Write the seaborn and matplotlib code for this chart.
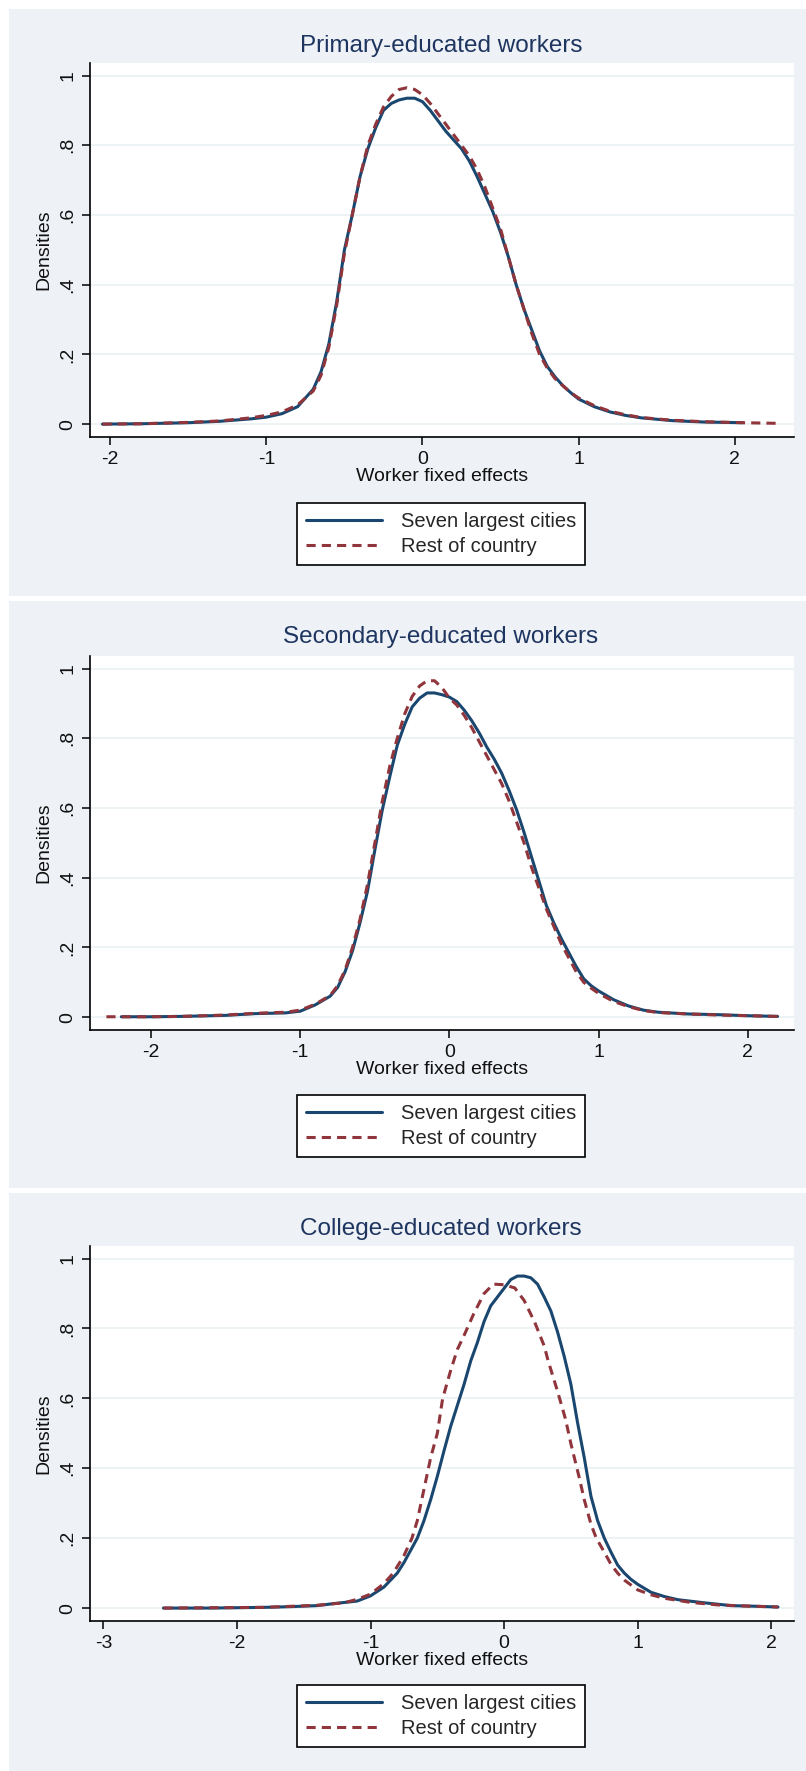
import matplotlib
matplotlib.use('Agg')
import matplotlib.pyplot as plt
from matplotlib.patches import Rectangle
import seaborn as sns

# Colours (Stata s2color look)
PANEL_BG = '#EEF1F6'
CITY_COLOR = '#1A476F'
REST_COLOR = '#90353B'
TITLE_COLOR = '#1E3560'
GRID_COLOR = '#EAF0F4'

titles = ['Primary-educated workers', 'Secondary-educated workers', 'College-educated workers']
series_names = ['Seven largest cities', 'Rest of country']
y_ticks = [0, 0.2, 0.4, 0.6, 0.8, 1.0]
y_tick_labels = ['0', '.2', '.4', '.6', '.8', '1']

# Primary-educated
primary_city_x = [-2.05, -1.8, -1.5, -1.3, -1.1, -1.0, -0.9, -0.8, -0.75, -0.7, -0.65, -0.6, -0.55,
                  -0.5, -0.45, -0.4, -0.35, -0.3, -0.25, -0.2, -0.15, -0.1, -0.05, 0.0, 0.05, 0.1,
                  0.15, 0.2, 0.25, 0.3, 0.35, 0.4, 0.45, 0.5, 0.55, 0.6, 0.65, 0.7, 0.75, 0.8,
                  0.85, 0.9, 0.95, 1.0, 1.1, 1.2, 1.3, 1.4, 1.6, 1.8, 2.05]
primary_city_y = [0.0, 0.001, 0.004, 0.008, 0.015, 0.02, 0.03, 0.05, 0.075, 0.1, 0.15, 0.23, 0.35,
                  0.5, 0.6, 0.71, 0.79, 0.85, 0.9, 0.92, 0.93, 0.935, 0.935, 0.925, 0.9, 0.87,
                  0.84, 0.815, 0.79, 0.755, 0.71, 0.66, 0.61, 0.55, 0.48, 0.4, 0.33, 0.27, 0.21, 0.165,
                  0.135, 0.11, 0.09, 0.072, 0.05, 0.035, 0.025, 0.018, 0.01, 0.006, 0.004]
primary_rest_x = [-2.05, -1.8, -1.5, -1.3, -1.1, -1.0, -0.9, -0.8, -0.75, -0.7, -0.65, -0.6, -0.55,
                  -0.5, -0.45, -0.4, -0.35, -0.3, -0.25, -0.2, -0.15, -0.1, -0.05, 0.0, 0.05, 0.1,
                  0.15, 0.2, 0.25, 0.3, 0.35, 0.4, 0.45, 0.5, 0.55, 0.6, 0.65, 0.7, 0.75, 0.8,
                  0.85, 0.9, 0.95, 1.0, 1.1, 1.2, 1.3, 1.4, 1.6, 1.8, 2.05, 2.3]
primary_rest_y = [0.0, 0.001, 0.005, 0.009, 0.018, 0.025, 0.035, 0.055, 0.075, 0.095, 0.14, 0.22, 0.34,
                  0.49, 0.6, 0.71, 0.8, 0.86, 0.91, 0.94, 0.96, 0.965, 0.96, 0.945, 0.92, 0.89,
                  0.86, 0.83, 0.8, 0.77, 0.73, 0.68, 0.62, 0.56, 0.48, 0.4, 0.33, 0.26, 0.2, 0.16,
                  0.13, 0.11, 0.09, 0.075, 0.053, 0.037, 0.027, 0.019, 0.011, 0.007, 0.004, 0.002]

# Secondary-educated
secondary_city_x = [-2.2, -2.0, -1.8, -1.5, -1.3, -1.1, -1.0, -0.9, -0.8, -0.75, -0.7, -0.65, -0.6,
                    -0.55, -0.5, -0.45, -0.4, -0.35, -0.3, -0.25, -0.2, -0.15, -0.1, -0.05, 0.0,
                    0.05, 0.1, 0.15, 0.2, 0.25, 0.3, 0.35, 0.4, 0.45, 0.5, 0.55, 0.6, 0.65, 0.7,
                    0.75, 0.8, 0.85, 0.9, 0.95, 1.0, 1.1, 1.2, 1.3, 1.4, 1.6, 1.8, 2.0, 2.2]
secondary_city_y = [0.001, 0.001, 0.002, 0.005, 0.01, 0.012, 0.017, 0.035, 0.06, 0.085, 0.13, 0.19, 0.27,
                    0.36, 0.48, 0.595, 0.69, 0.78, 0.84, 0.89, 0.915, 0.93, 0.93, 0.925, 0.918,
                    0.905, 0.88, 0.85, 0.815, 0.775, 0.74, 0.7, 0.65, 0.595, 0.53, 0.46, 0.39, 0.32, 0.27,
                    0.225, 0.185, 0.145, 0.11, 0.09, 0.075, 0.05, 0.032, 0.02, 0.014, 0.009, 0.007, 0.004, 0.002]
secondary_rest_x = [-2.3, -2.0, -1.8, -1.5, -1.3, -1.1, -1.0, -0.9, -0.8, -0.75, -0.7, -0.65, -0.6,
                    -0.55, -0.5, -0.45, -0.4, -0.35, -0.3, -0.25, -0.2, -0.15, -0.1, -0.05, 0.0,
                    0.05, 0.1, 0.15, 0.2, 0.25, 0.3, 0.35, 0.4, 0.45, 0.5, 0.55, 0.6, 0.65, 0.7,
                    0.75, 0.8, 0.85, 0.9, 0.95, 1.0, 1.1, 1.2, 1.3, 1.4, 1.6, 1.8, 2.0, 2.2]
secondary_rest_y = [0.001, 0.001, 0.002, 0.006, 0.011, 0.014, 0.02, 0.037, 0.062, 0.09, 0.135, 0.2, 0.28,
                    0.38, 0.5, 0.62, 0.72, 0.8, 0.87, 0.92, 0.95, 0.965, 0.965, 0.945, 0.915,
                    0.895, 0.865, 0.83, 0.79, 0.75, 0.71, 0.67, 0.62, 0.56, 0.5, 0.43, 0.37, 0.31, 0.26,
                    0.21, 0.17, 0.13, 0.1, 0.083, 0.068, 0.045, 0.03, 0.019, 0.013, 0.009, 0.006, 0.004, 0.002]

# College-educated
college_city_x = [-2.55, -2.2, -1.8, -1.6, -1.4, -1.27, -1.1, -1.0, -0.9, -0.8, -0.75, -0.7, -0.65,
                  -0.6, -0.55, -0.5, -0.45, -0.4, -0.35, -0.3, -0.25, -0.2, -0.15, -0.1, -0.05, 0.0,
                  0.05, 0.1, 0.15, 0.2, 0.25, 0.3, 0.35, 0.4, 0.45, 0.5, 0.55, 0.6, 0.65, 0.7, 0.75,
                  0.8, 0.85, 0.9, 0.95, 1.0, 1.1, 1.2, 1.3, 1.5, 1.7, 1.9, 2.05]
college_city_y = [0.0, 0.0, 0.002, 0.004, 0.007, 0.013, 0.02, 0.035, 0.06, 0.1, 0.13, 0.165, 0.2,
                  0.25, 0.31, 0.377, 0.45, 0.52, 0.58, 0.64, 0.707, 0.76, 0.82, 0.865, 0.89, 0.915,
                  0.94, 0.95, 0.95, 0.945, 0.927, 0.89, 0.85, 0.79, 0.72, 0.64, 0.53, 0.43, 0.32, 0.25, 0.2,
                  0.16, 0.123, 0.1, 0.082, 0.068, 0.045, 0.033, 0.024, 0.015, 0.007, 0.005, 0.003]
college_rest_x = [-2.55, -2.2, -1.8, -1.6, -1.4, -1.2, -1.1, -1.0, -0.9, -0.83, -0.75, -0.69, -0.65,
                  -0.6, -0.55, -0.5, -0.46, -0.4, -0.35, -0.3, -0.23, -0.15, -0.08, 0.0, 0.08, 0.15,
                  0.23, 0.3, 0.33, 0.4, 0.46, 0.5, 0.56, 0.6, 0.65, 0.69, 0.75, 0.8, 0.85, 0.9, 1.0,
                  1.1, 1.2, 1.4, 1.6, 1.8, 2.05]
college_rest_y = [0.0, 0.001, 0.002, 0.005, 0.008, 0.015, 0.025, 0.04, 0.07, 0.1, 0.15, 0.2, 0.25,
                  0.34, 0.43, 0.5, 0.6, 0.68, 0.74, 0.78, 0.84, 0.9, 0.927, 0.925, 0.916, 0.88,
                  0.817, 0.75, 0.707, 0.62, 0.54, 0.47, 0.377, 0.31, 0.24, 0.2, 0.16, 0.125, 0.1, 0.08, 0.052,
                  0.038, 0.028, 0.016, 0.009, 0.006, 0.003]

panels = [
    (primary_city_x, primary_city_y, primary_rest_x, primary_rest_y, [-2, -1, 0, 1, 2], (-2.13, 2.38)),
    (secondary_city_x, secondary_city_y, secondary_rest_x, secondary_rest_y, [-2, -1, 0, 1, 2], (-2.41, 2.31)),
    (college_city_x, college_city_y, college_rest_x, college_rest_y, [-3, -2, -1, 0, 1, 2], (-3.10, 2.17)),
]

sns.set_theme(style='white')
plt.rcParams['font.family'] = ['Liberation Sans', 'DejaVu Sans']

W, H = 806, 1771
fig = plt.figure(figsize=(W / 100, H / 100), dpi=100)
fig.patch.set_facecolor('white')

# panel layout in pixels: (gray top, gray bottom, axes top, axes bottom, title y, legend top)
layout = [
    (9, 596, 63, 437, 46, 503),
    (601, 1188, 656, 1030, 637, 1095),
    (1193, 1771, 1246, 1621, 1229, 1685),
]

ax_left, ax_right = 90, 794

for (cx, cy, rx, ry, xticks, xlim), title, (gtop, gbot, atop, abot, ty, ltop) in zip(panels, titles, layout):
    # light grey-blue panel behind each graph
    fig.patches.append(Rectangle((9 / W, 1 - gbot / H), 1 - 9 / W, (gbot - gtop) / H,
                                 transform=fig.transFigure, facecolor=PANEL_BG,
                                 edgecolor='none', zorder=-5))
    ax = fig.add_axes([ax_left / W, 1 - abot / H, (ax_right - ax_left) / W, (abot - atop) / H])
    ax.set_facecolor('white')

    sns.lineplot(x=cx, y=cy, ax=ax, color=CITY_COLOR, lw=2.2, label=series_names[0], zorder=3)
    sns.lineplot(x=rx, y=ry, ax=ax, color=REST_COLOR, lw=2.2, label=series_names[1],
                 dashes=False, zorder=4)
    ax.lines[-1].set_dashes([3, 2])

    ax.set_xlim(*xlim)
    ax.set_ylim(-0.037, 1.036)
    ax.set_xticks(xticks)
    ax.set_xticklabels([str(t) for t in xticks])
    ax.set_yticks(y_ticks)
    ax.set_yticklabels(y_tick_labels, rotation=90, va='center')
    ax.yaxis.grid(True, color=GRID_COLOR, lw=1.2)
    ax.xaxis.grid(False)
    ax.set_axisbelow(True)

    for side in ['top', 'right']:
        ax.spines[side].set_visible(False)
    for side in ['left', 'bottom']:
        ax.spines[side].set_color('black')
        ax.spines[side].set_linewidth(1.2)
    ax.tick_params(axis='both', direction='out', length=6, width=1.1, color='black',
                   labelsize=14, labelcolor='#111111', left=True, bottom=True, pad=4)

    ax.set_xlabel('Worker fixed effects', fontsize=14, color='#111111', labelpad=0)
    ax.set_ylabel('Densities', fontsize=14, color='#111111', labelpad=5)
    fig.text(0.547, 1 - ty / H, title, ha='center', va='center', fontsize=17.5, color=TITLE_COLOR)

    ax.legend_.remove()
    handles, labels = ax.get_legend_handles_labels()
    leg = fig.legend(handles, labels, loc='upper center', bbox_to_anchor=(0.547, 1 - ltop / H),
                     bbox_transform=fig.transFigure, fontsize=14.5, frameon=True, fancybox=False,
                     edgecolor='black', facecolor='white', framealpha=1, handlelength=3.8,
                     borderpad=0.45, labelspacing=0.3, handletextpad=0.9, borderaxespad=0)
    leg.get_frame().set_linewidth(1.2)
    leg.legend_handles[1].set_dashes([3, 2])

fig.savefig('out.png', dpi=100, facecolor='white')
